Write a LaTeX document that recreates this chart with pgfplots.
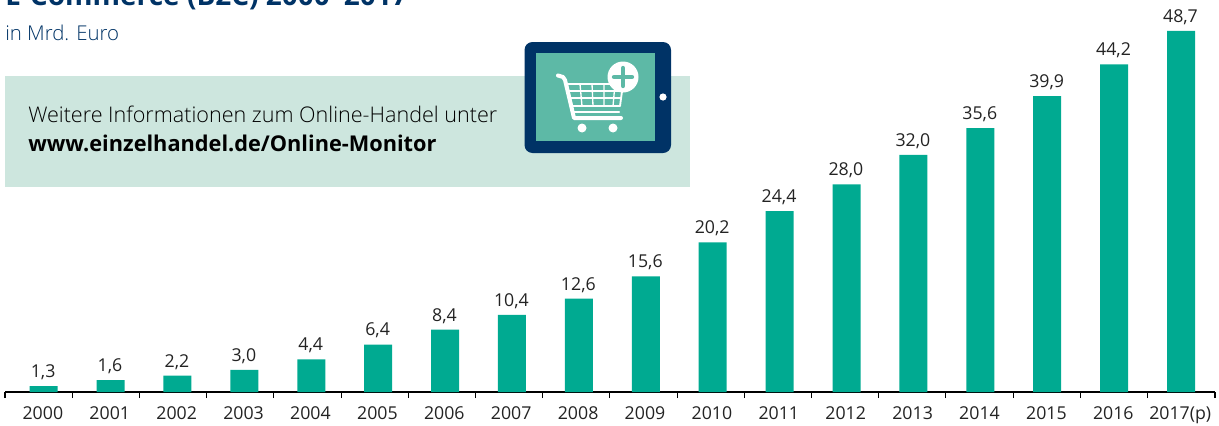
\documentclass[border=0pt]{standalone}
\usepackage{fontspec}
\setmainfont{Open Sans}
\newfontfamily\lightf{Open Sans Light}
\usepackage{pgfplots}
\pgfplotsset{compat=1.18}
\definecolor{barc}{RGB}{0,170,145}
\definecolor{boxc}{RGB}{205,230,222}
\definecolor{navy}{RGB}{0,51,102}
\definecolor{screenc}{RGB}{93,185,166}
\definecolor{txt}{RGB}{35,35,35}
\begin{document}
\begin{tikzpicture}
\clip (0,0) rectangle (914.25pt,-318.75pt);
\begin{scope}[x=0.75pt,y=-0.75pt]
% header
\node[anchor=base west,inner sep=0pt,text=navy] at (5,5) {\fontsize{21}{25}\selectfont\bfseries E-Commerce (B2C) 2000--2017};
\node[anchor=base west,inner sep=0pt,text=navy] at (5,40) {\fontsize{15.3}{17}\selectfont\lightf in Mrd. Euro};
% info box
\fill[boxc] (5,76) rectangle (690,187);
\node[anchor=base west,inner sep=0pt,text=black] at (28,122) {\fontsize{16.17}{18}\selectfont\lightf Weitere Informationen zum Online-Handel unter};
\node[anchor=base west,inner sep=0pt,text=black] at (28,151) {\fontsize{16.3}{18}\selectfont\bfseries www.einzelhandel.de/Online-Monitor};
% tablet
\fill[navy,rounded corners=6pt] (524.5,42) rectangle (671,153);
\fill[screenc] (536,53) rectangle (655,141);
\fill[white] (663,97) circle (3.6);
\begin{scope}[white,line width=3pt,line cap=round,line join=round]
\draw (558,75.5) -- (563,77) -- (565,80) -- (574,118) -- (621,118);
\draw[line width=1.4pt] (567,84) -- (623,84) -- (620,106) -- (572,106) -- cycle;
\draw[line width=1pt] (568,91) -- (622,91) (570,98) -- (621,98);
\draw[line width=1pt] (580,84) -- (582,106) (592,84) -- (593,106) (604,84) -- (604,106) (615,84) -- (613,106);
\draw[line width=1.6pt] (573,112) -- (619,112);
\end{scope}
\fill[white] (582,128) circle (4.5) (613,128) circle (4.5);
\fill[white] (623,77) circle (15.5);
\draw[screenc,line width=3.2pt,line cap=round] (623,68) -- (623,86) (614,77) -- (632,77);
\end{scope}
% chart
\begin{axis}[
  at={(3.75pt,-294pt)},anchor=south west,
  scale only axis,width=907.5pt,height=294pt,
  xmin=-0.578,xmax=17.508,ymin=0,ymax=52.88,
  axis x line=bottom,axis y line=none,
  axis line style={-,line width=0.9pt,color=black},
  clip=false,
  ybar,bar width=21pt,
  xtick=data,
  xticklabels={2000,2001,2002,2003,2004,2005,2006,2007,2008,2009,2010,2011,2012,2013,2014,2015,2016,2017(p)},
  major tick length=0pt,
  xtick style={draw=none},
  extra x ticks={-0.578,0.4266,1.4311,2.4357,3.4402,4.4447,5.4493,6.4538,7.4583,8.4629,9.4674,10.4720,11.4765,12.4810,13.4856,14.4901,15.4946,16.4992,17.508},
  extra x tick labels={},
  extra x tick style={major tick length=4.6pt,tick align=outside,xtick style={draw=black,line width=0.8pt}},
  xticklabel style={font=\fontsize{13.3}{15}\selectfont,text=txt,yshift=-7.5pt,xshift=-0.6pt},
  /pgf/number format/assume math mode=true,
  nodes near coords,
  point meta=explicit,
  nodes near coords style={font=\fontsize{13.3}{15}\selectfont,text=txt,xshift=-0.4pt,yshift=1.2pt,
    /pgf/number format/.cd,fixed,fixed zerofill,precision=1,use comma,assume math mode=true},
]
\addplot[fill=barc,draw=none] coordinates {
(0,0.8)[1.3](1,1.6)[1.6](2,2.2)[2.2](3,3.0)[3.0](4,4.4)[4.4](5,6.4)[6.4](6,8.4)[8.4](7,10.4)[10.4](8,12.6)[12.6](9,15.6)[15.6]
(10,20.2)[20.2](11,24.4)[24.4](12,28.0)[28.0](13,32.0)[32.0](14,35.6)[35.6](15,39.9)[39.9](16,44.2)[44.2](17,48.7)[48.7]};
\end{axis}
\end{tikzpicture}
\end{document}
